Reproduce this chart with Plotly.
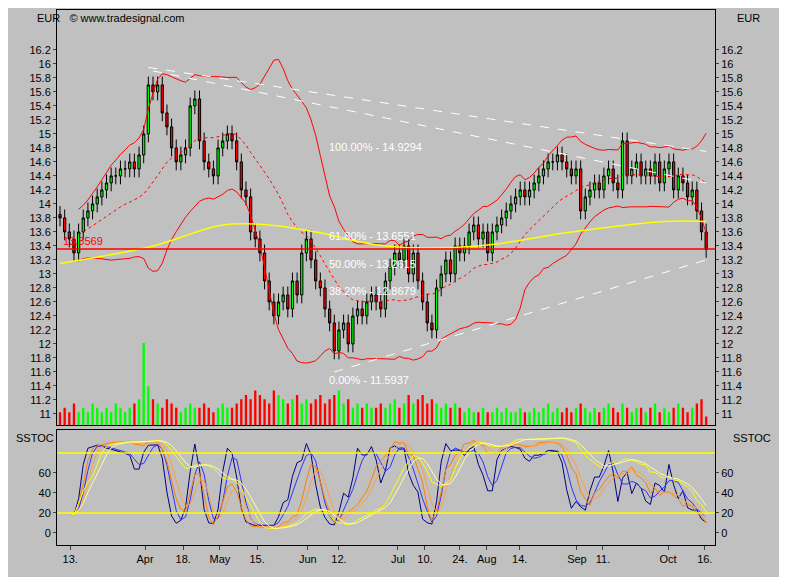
import plotly.graph_objects as go
import pandas as pd
import numpy as np

closes = [13.8,13.6,13.5,13.3,13.6,13.8,13.9,14.0,14.1,14.2,
          14.3,14.4,14.4,14.5,14.5,14.6,14.5,14.7,15.0,15.7,
          15.6,15.7,15.3,15.1,14.8,14.6,14.7,14.8,15.4,15.5,
          14.9,14.6,14.5,14.4,14.8,14.9,15.0,14.9,14.6,14.2,
          14.1,13.6,13.5,13.3,12.9,12.6,12.4,12.6,12.7,12.5,
          12.9,12.7,13.3,13.5,13.2,12.9,12.8,12.5,12.3,11.9,
          12.2,12.3,12.0,12.4,12.5,12.4,12.6,12.7,12.6,12.5,
          12.9,13.1,13.3,13.2,13.4,13.0,13.3,12.9,12.6,12.3,
          12.2,12.8,13.0,13.2,13.0,13.4,13.3,13.4,13.6,13.7,
          13.5,13.6,13.3,13.6,13.7,13.8,13.9,14.0,14.1,14.2,
          14.1,14.2,14.3,14.4,14.5,14.6,14.6,14.7,14.6,14.5,
          14.4,14.5,13.9,14.1,14.2,14.3,14.2,14.4,14.5,14.3,
          14.2,14.9,14.4,14.5,14.6,14.4,14.5,14.4,14.6,14.3,
          14.5,14.6,14.2,14.4,14.3,14.1,14.2,13.9,13.6,13.35]
volume = [3,4,3,5,3,4,3,5,4,3, 4,3,5,4,3,4,5,6,19,9,
          6,5,4,6,5,4,3,4,5,4, 4,5,4,3,4,5,4,4,5,6,
          7,6,8,7,6,5,8,7,6,5, 6,7,5,6,5,6,7,5,6,7,
          8,5,6,4,5,4,5,4,4,5, 4,5,6,4,5,7,5,6,7,5,
          6,5,4,5,4,5,4,3,4,3, 3,4,3,3,4,3,4,3,3,4,
          3,3,4,3,4,5,3,4,3,4, 3,4,5,4,3,4,3,4,5,4,
          3,5,4,3,4,4,3,4,5,3, 4,3,4,5,4,3,4,5,6,2]
ma_idx = [0, 20, 35, 45, 55, 70, 90, 110, 130, 139]
ma_val = [13.15, 13.4, 13.7, 13.7, 13.6, 13.4, 13.4, 13.6, 13.75, 13.75]
tick_pos = [2.2,18.3,26.5,34.4,42.4,53.3,60,72.7,78.5,86,91.8,98.9,111.2,116.8,130.8,138.7]
tick_txt = ["13.","Apr","18.","May","15.","Jun","12.","Jul","10.","24.","Aug","14.","Sep","11.","Oct","16."]
fib_lbl = ["100.00% - 14.9294","61.80% - 13.6551","50.00% - 13.2615","38.20% - 12.8679","0.00% - 11.5937"]
fib_val = [14.9294,13.6551,13.2615,12.8679,11.5937]
support = 13.3569

n = len(closes)
x = list(range(n))
c = pd.Series(closes)
o = c.shift(1).fillna(closes[0] + 0.05)
hi = np.maximum(o, c) + 0.12
lo = np.minimum(o, c) - 0.12

mid = c.rolling(20, min_periods=5).mean()
sd = c.rolling(20, min_periods=5).std()
up, dn = mid + 2 * sd, mid - 2 * sd

def stoch(p, s):
    hh = hi.rolling(p, min_periods=3).max(); ll = lo.rolling(p, min_periods=3).min()
    k = ((c - ll) / (hh - ll) * 100).rolling(s, min_periods=1).mean()
    return k, k.rolling(3, min_periods=1).mean()

fig = go.Figure()
vcol = ["#00ff00" if closes[i] >= o[i] else "#ff0000" for i in range(n)]
fig.add_trace(go.Bar(x=x, y=volume, marker_color=vcol, marker_line_width=0, width=0.5,
                     yaxis="y3", xaxis="x"))
fig.add_trace(go.Scatter(x=x, y=up, mode="lines", line=dict(color="#ff0000", width=1)))
fig.add_trace(go.Scatter(x=x, y=dn, mode="lines", line=dict(color="#ff0000", width=1)))
fig.add_trace(go.Scatter(x=x, y=mid, mode="lines", line=dict(color="#ff0000", width=1, dash="dot")))
fig.add_trace(go.Scatter(x=ma_idx, y=ma_val, mode="lines", line=dict(color="#ffff00", width=1.5, shape="spline")))
fig.add_trace(go.Scatter(x=[19, 139], y=[15.95, 14.75], mode="lines", line=dict(color="white", width=1, dash="dash")))
fig.add_trace(go.Scatter(x=[20, 139], y=[15.9, 14.3], mode="lines", line=dict(color="white", width=1, dash="dash")))
fig.add_trace(go.Scatter(x=[59, 139], y=[11.6, 13.2], mode="lines", line=dict(color="white", width=1, dash="dash")))
fig.add_trace(go.Candlestick(x=x, open=o, high=hi, low=lo, close=c,
    increasing=dict(fillcolor="#00ff00", line=dict(color="black", width=1)),
    decreasing=dict(fillcolor="#ff0000", line=dict(color="black", width=1)),
    whiskerwidth=0))
fig.add_shape(type="line", xref="paper", x0=0, x1=1, y0=support, y1=support, line=dict(color="#ff0000", width=1.5))
fig.add_annotation(x=0.3, y=support, text="13.3569", showarrow=False, xanchor="left", yanchor="bottom",
                   font=dict(color="#ff0000", size=11))
for t, v in zip(fib_lbl, fib_val):
    fig.add_annotation(x=57.5, y=v, text=t, showarrow=False, xanchor="left", yanchor="top",
                       font=dict(color="white", size=11))

for (p, s, cols) in [(5, 2, ["#000080", "#3030ff"]), (12, 3, ["#ff8000", "#ffa040"]), (30, 6, ["#ffff00", "#ffffa0"])]:
    k, d = stoch(p, s)
    fig.add_trace(go.Scatter(x=x, y=k, mode="lines", line=dict(color=cols[0], width=1), xaxis="x2", yaxis="y2"))
    fig.add_trace(go.Scatter(x=x, y=d, mode="lines", line=dict(color=cols[1], width=1), xaxis="x2", yaxis="y2"))
for lv in [80, 20]:
    fig.add_shape(type="line", xref="x2 domain", yref="y2", x0=0, x1=1, y0=lv, y1=lv, line=dict(color="#ffff00", width=1.5))

ax = dict(showgrid=False, zeroline=False, showline=True, linecolor="black", mirror=True, automargin=False)
tf = dict(family="Arial", size=11, color="black")
yt = [11 + 0.2 * i for i in range(27)]
ytt = [f"{v:g}" for v in yt]
fig.update_layout(
    width=787, height=577, margin=dict(l=49, r=80, t=2, b=40),
    paper_bgcolor="#c0c0c0", plot_bgcolor="#c0c0c0", showlegend=False, font=tf,
    xaxis=dict(**ax, range=[-0.65, 140.9], domain=[0, 1], anchor="y", showticklabels=False, rangeslider=dict(visible=False)),
    yaxis=dict(**ax, domain=[0.224, 1], range=[10.84, 16.77], tickvals=yt, ticktext=ytt, ticks="outside", ticklen=3, tickfont=tf),
    yaxis3=dict(overlaying="y", range=[0, 96], visible=False),
    yaxis4=dict(overlaying="y", side="right", range=[10.84, 16.77], tickvals=yt, ticktext=ytt, automargin=False,
                showgrid=False, zeroline=False, tickfont=tf, ticks="outside", ticklen=3),
    xaxis2=dict(**ax, range=[-0.65, 140.9], domain=[0, 1], anchor="y2", tickvals=tick_pos, ticktext=tick_txt,
                ticks="outside", ticklen=4, tickfont=tf),
    yaxis2=dict(**ax, domain=[0, 0.215], range=[-12, 103], tickvals=[0, 20, 40, 60], ticks="outside", ticklen=3, tickfont=tf),
    yaxis5=dict(overlaying="y2", side="right", range=[-12, 103], tickvals=[0, 20, 40, 60], automargin=False,
                showgrid=False, zeroline=False, tickfont=tf, ticks="outside", ticklen=3),
)
fig.add_trace(go.Scatter(x=[0], y=[13], yaxis="y4", mode="markers", marker=dict(opacity=0), hoverinfo="skip"))
fig.add_trace(go.Scatter(x=[0], y=[50], xaxis="x2", yaxis="y5", mode="markers", marker=dict(opacity=0), hoverinfo="skip"))
fig.add_annotation(xref="paper", yref="paper", x=-0.033, y=1.0, text="EUR   © www.tradesignal.com", showarrow=False, xanchor="left", yanchor="top", font=tf)
fig.add_annotation(xref="paper", yref="paper", x=1.03, y=1.0, text="EUR", showarrow=False, xanchor="left", yanchor="top", font=tf)
fig.add_annotation(xref="paper", yref="paper", x=-0.066, y=0.215, text="SSTOC", showarrow=False, xanchor="left", yanchor="top", font=tf)
fig.add_annotation(xref="paper", yref="paper", x=1.025, y=0.215, text="SSTOC", showarrow=False, xanchor="left", yanchor="top", font=tf)
fig.write_html("out.html")
